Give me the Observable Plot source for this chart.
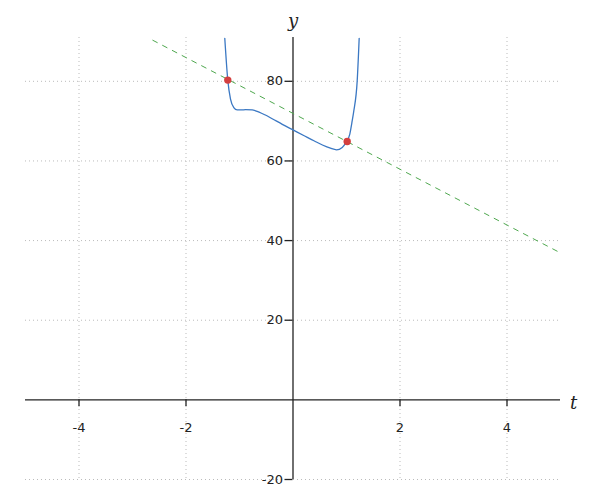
<!DOCTYPE html>
<html>
<head>
<meta charset="utf-8">
<script src="https://cdn.jsdelivr.net/npm/d3@7"></script>
<script src="https://cdn.jsdelivr.net/npm/@observablehq/plot@0.6"></script>
<style>
  html, body { margin: 0; padding: 0; background: #fff; }
  svg { display: block; }
</style>
</head>
<body>
<div id="chart"></div>
<script>
// Curve samples (t, y)
const curveT = [-1.275, -1.219, -1.168, -1.107, -1.043, -0.963, -0.888, -0.763, -0.701, -0.527, -0.389, -0.2, 0.0, 0.2, 0.4, 0.55, 0.70, 0.813, 0.920, 0.981, 1.062, 1.107, 1.136, 1.200, 1.237];
const curveY = [90.8, 80.3, 75.5, 73.4, 72.8, 72.8, 72.9, 72.8, 72.6, 71.6, 70.6, 69.2, 67.8, 66.4, 65.0, 64.0, 63.2, 62.8, 63.4, 64.4, 66.75, 70.1, 72.5, 80.1, 90.8];
// Dashed secant line endpoints
const lineT = [-2.62, 5];
const lineY = [90.3, 36.9];
// Marked points
const pointT = [-1.219, 1.013];
const pointY = [80.3, 64.9];
// Ticks
const xTicks = [-4, -2, 2, 4];
const xTickLabels = ["-4", "-2", "2", "4"];
const yTicks = [-20, 20, 40, 60, 80];
const yTickLabels = ["-20", "20", "40", "60", "80"];

const curve = curveT.map((t, i) => ({t, y: curveY[i]}));
const line = lineT.map((t, i) => ({t, y: lineY[i]}));
const pts = pointT.map((t, i) => ({t, y: pointY[i]}));
const xt = xTicks.map((v, i) => ({v, label: xTickLabels[i]}));
const yt = yTicks.map((v, i) => ({v, label: yTickLabels[i]}));

const tickFont = "DejaVu Sans, sans-serif";
const axisColor = "#222";

const chart = Plot.plot({
  width: 600,
  height: 500,
  marginLeft: 25,
  marginRight: 40,
  marginTop: 37,
  marginBottom: 21,
  x: {domain: [-5, 5], axis: null},
  y: {domain: [-20, 91], axis: null},
  style: {fontFamily: tickFont, fontSize: "13px", background: "#fff", overflow: "visible"},
  marks: [
    // grid
    Plot.ruleX(xt, {x: "v", stroke: "#bbb", strokeWidth: 1, strokeDasharray: "1,3"}),
    Plot.ruleY(yt, {y: "v", stroke: "#bbb", strokeWidth: 1, strokeDasharray: "1,3"}),
    // axes
    Plot.ruleY([0], {stroke: axisColor, strokeWidth: 1.3}),
    Plot.ruleX([0], {stroke: axisColor, strokeWidth: 1.3}),
    // tick marks
    Plot.ruleX(xt, {x: "v", y1: 0, y2: 0, insetBottom: -7, stroke: axisColor, strokeWidth: 1.3}),
    Plot.ruleY(yt, {y: "v", x1: 0, x2: 0, insetLeft: -8, stroke: axisColor, strokeWidth: 1.3}),
    // tick labels
    Plot.text(xt, {x: "v", y: 0, dy: 28, text: "label", fontSize: 13, fill: axisColor, fontFamily: tickFont}),
    Plot.text(yt, {x: 0, y: "v", dx: -10, text: "label", textAnchor: "end", fontSize: 13, fill: axisColor, fontFamily: tickFont}),
    // axis labels
    Plot.text(["y"], {x: 0, y: 91, dy: -16, text: d => d, fontSize: 18, fontStyle: "italic", fontFamily: "DejaVu Serif, serif", fill: axisColor}),
    Plot.text(["t"], {x: 5, y: 0, dx: 13, dy: 3, text: d => d, fontSize: 18, fontStyle: "italic", fontFamily: "DejaVu Serif, serif", fill: axisColor}),
    // dashed line
    Plot.line(line, {x: "t", y: "y", stroke: "#4fa84f", strokeWidth: 1, strokeDasharray: "5,6", clip: true}),
    // curve
    Plot.line(curve, {x: "t", y: "y", stroke: "#3b78c3", strokeWidth: 1.3, curve: "monotone-x", clip: true}),
    // points
    Plot.dot(pts, {x: "t", y: "y", r: 3.7, fill: "#d43f3f", stroke: "none"})
  ]
});
document.getElementById("chart").appendChild(chart);
</script>
</body>
</html>
